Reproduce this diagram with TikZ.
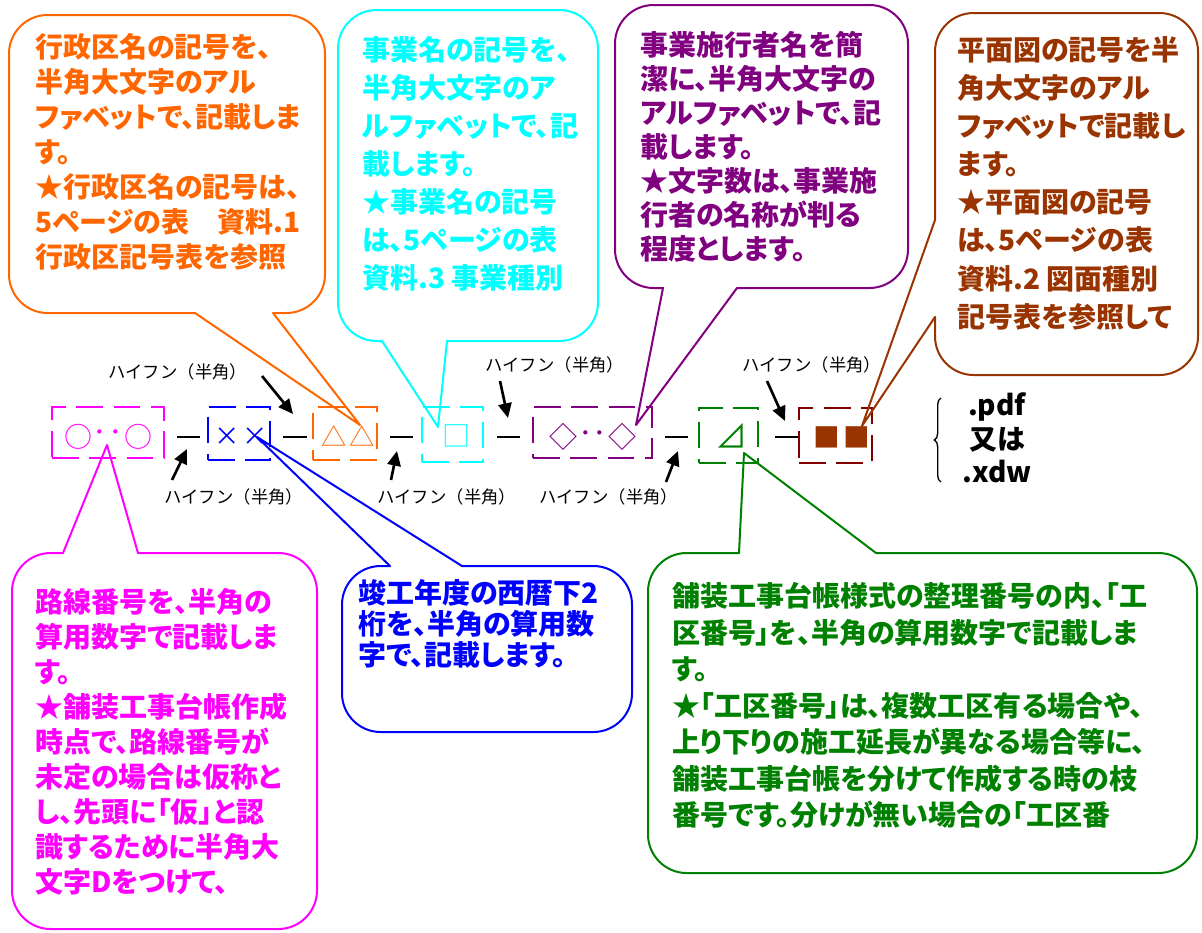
\documentclass[tikz,border=0pt]{standalone}
\usepackage{fontspec}
\usetikzlibrary{arrows.meta,decorations.pathreplacing}
\newfontfamily\jp{Noto Sans CJK JP}[RawFeature=+palt]
\newfontfamily\jpn{Noto Sans CJK JP}
\definecolor{cOra}{HTML}{FF6600}
\definecolor{cCya}{HTML}{00FFFF}
\definecolor{cPur}{HTML}{800080}
\definecolor{cBrn}{HTML}{993300}
\definecolor{cDrd}{HTML}{800000}
\definecolor{cMag}{HTML}{FF00FF}
\definecolor{cBlu}{HTML}{0000FF}
\definecolor{cGrn}{HTML}{008000}
\tikzset{
  callout/.style={line width=1.5pt, line cap=round, line join=round},
  ctext/.style={anchor=north west, inner sep=0pt, align=left},
  dbox/.style={draw, line width=1.8pt, dash pattern=on 20pt off 8pt, inner sep=0pt},
  sym/.style={inner sep=0pt},
  hyph/.style={line width=1.5pt, black},
  arr/.style={line width=2pt, black, -{Triangle[length=11pt,width=10pt]}},
  hlabel/.style={font=\jpn\fontsize{13}{14}\selectfont, inner sep=0pt},
}
\begin{document}
\begin{tikzpicture}[x=0.75pt,y=-0.75pt]
\useasboundingbox (0,0) rectangle (1202,932);

% ---------- dashed boxes ----------
\node[dbox,draw=cMag,minimum width=84pt,minimum height=38.25pt] (mag) at (108,432.5) {};
\node[dbox,draw=cBlu,minimum width=46.5pt,minimum height=39.75pt] (blu) at (239,433.5) {};
\node[dbox,draw=cOra,minimum width=48pt,minimum height=39.75pt] (ora) at (345,433.5) {};
\node[dbox,draw=cCya,minimum width=45.75pt,minimum height=41.25pt] (cya) at (452.5,434.5) {};
\node[dbox,draw=cPur,minimum width=89.25pt,minimum height=38.25pt] (pur) at (592.5,432.5) {};
\node[dbox,draw=cGrn,minimum width=44.25pt,minimum height=41.25pt] (grn) at (728.5,435.5) {};
\node[dbox,draw=cDrd,minimum width=54.75pt,minimum height=41.25pt] (brn) at (835.5,435.5) {};

% ---------- symbols ----------
\node[sym,text=cMag,font=\jpn\fontsize{21}{21}\selectfont] (m1) at (78,437) {○};
\node[sym,text=cMag,font=\jpn\fontsize{19}{19}\selectfont] (m2) at (100,436) {･};
\node[sym,text=cMag,font=\jpn\fontsize{19}{19}\selectfont] (m3) at (116,436) {･};
\node[sym,text=cMag,font=\jpn\fontsize{21}{21}\selectfont] (m4) at (138,437) {○};
\node[sym,text=cBlu,font=\jpn\fontsize{19}{19}\selectfont] (b1) at (227,437) {×};
\node[sym,text=cBlu,font=\jpn\fontsize{19}{19}\selectfont] (b2) at (255,437) {×};
\node[sym,text=cOra,font=\jpn\fontsize{19}{19}\selectfont] (o1) at (334,436) {△};
\node[sym,text=cOra,font=\jpn\fontsize{19}{19}\selectfont] (o2) at (362,436) {△};
\node[sym,text=cCya,font=\jpn\fontsize{21}{21}\selectfont] (c1) at (456,436) {□};
\node[sym,text=cPur,font=\jpn\fontsize{21}{21}\selectfont] (p1) at (563,437) {◇};
\node[sym,text=cPur,font=\jpn\fontsize{19}{19}\selectfont] (p2) at (586,437) {･};
\node[sym,text=cPur,font=\jpn\fontsize{19}{19}\selectfont] (p3) at (600,437) {･};
\node[sym,text=cPur,font=\jpn\fontsize{21}{21}\selectfont] (p4) at (622,437) {◇};
\node[sym,text=cGrn,font=\jpn\fontsize{24}{24}\selectfont] (g1) at (731,436) {⊿};
\node[sym,text=cBrn,font=\jpn\fontsize{20}{20}\selectfont] (r1) at (827,437) {■};
\node[sym,text=cBrn,font=\jpn\fontsize{20}{20}\selectfont] (r2) at (857,437) {■};

% ---------- hyphens ----------
\draw[hyph] (177,437) -- (200,437);
\draw[hyph] (283,437) -- (307,437);
\draw[hyph] (390,437) -- (413,437);
\draw[hyph] (497,437) -- (520,437);
\draw[hyph] (665,437) -- (688,437);
\draw[hyph] (775,437) -- (798,437);

% ---------- hyphen labels and arrows ----------
\node[hlabel] (hl1) at (178,372) {ハイフン（半角）};
\node[hlabel] (hl2) at (234,497) {ハイフン（半角）};
\node[hlabel] (hl3) at (447,497) {ハイフン（半角）};
\node[hlabel] (hl4) at (555,365) {ハイフン（半角）};
\node[hlabel] (hl5) at (609,497) {ハイフン（半角）};
\node[hlabel] (hl6) at (812,365) {ハイフン（半角）};
\coordinate (a1s) at (262,376); \coordinate (a1e) at (293,414);
\coordinate (a2s) at (172,480); \coordinate (a2e) at (187,449);
\coordinate (a3s) at (391,480); \coordinate (a3e) at (397,451);
\coordinate (a4s) at (500,381); \coordinate (a4e) at (508,418);
\coordinate (a5s) at (666,482); \coordinate (a5e) at (678,451);
\coordinate (a6s) at (767,381); \coordinate (a6e) at (785,421);
\draw[arr] (a1s) -- (a1e);
\draw[arr] (a2s) -- (a2e);
\draw[arr] (a3s) -- (a3e);
\draw[arr] (a4s) -- (a4e);
\draw[arr] (a5s) -- (a5e);
\draw[arr] (a6s) -- (a6e);

% ---------- brace and extensions ----------
\draw[decorate,decoration={brace,amplitude=5pt},line width=1pt] (941,482) -- (941,398);
\node[inner sep=0pt,align=center,font=\jp\bfseries\fontsize{21}{25}\selectfont] (ext) at (997,438) {.pdf\\又は\\.xdw};

% ---------- callouts: tips ----------
\coordinate (tOra) at (360,425);
\coordinate (tCya) at (438,427);
\coordinate (tPur) at (636,425);
\coordinate (tBrn) at (862,426);
\coordinate (tMag) at (107,445);
\coordinate (tBlu) at (257,437);
\coordinate (tGrn) at (744,453);

% orange
\draw[callout,cOra,rounded corners=29pt] (273,313) -- (325,313) -- (325,15) -- (9,15) -- (9,313) -- (195,313);
\draw[callout,cOra] (195,313) -- (tOra) -- (273,313);
% cyan
\draw[callout,cCya,rounded corners=29pt] (447,341) -- (598,341) -- (598,10) -- (338,10) -- (338,341) -- (382,341);
\draw[callout,cCya] (382,341) -- (tCya) -- (447,341);
% purple
\draw[callout,cPur,rounded corners=29pt] (737,288) -- (908,288) -- (908,5) -- (615,5) -- (615,288) -- (663,288);
\draw[callout,cPur] (663,288) -- (tPur) -- (737,288);
% brown
\draw[callout,cBrn,rounded corners=29pt] (935,317) -- (935,375) -- (1198,375) -- (1198,13) -- (935,13) -- (935,220);
\draw[callout,cBrn] (935,220) -- (tBrn) -- (935,317);
% magenta
\draw[callout,cMag,rounded corners=29pt] (63,553) -- (12,553) -- (12,929) -- (317,929) -- (317,553) -- (138,553);
\draw[callout,cMag] (138,553) -- (tMag) -- (63,553);
% blue
\draw[callout,cBlu,rounded corners=29pt] (390,566) -- (342,566) -- (342,732) -- (632,732) -- (632,566) -- (462,566);
\draw[callout,cBlu] (462,566) -- (tBlu) -- (390,566);
% green
\draw[callout,cGrn,rounded corners=29pt] (739,553) -- (648,553) -- (648,873) -- (1197,873) -- (1197,553) -- (876,553);
\draw[callout,cGrn] (876,553) -- (tGrn) -- (739,553);

% ---------- callout texts ----------
\node[ctext,text=cOra,font=\jp\bfseries\fontsize{21}{26.25}\selectfont] (txOra) at (35,33)
 {行政区名の記号を、\\半角大文字のアル\\ファベットで、記載しま\\す。\\★行政区名の記号は、\\5ページの表　資料.1\\行政区記号表を参照};
\node[ctext,text=cCya,font=\jp\bfseries\fontsize{21}{28.5}\selectfont] (txCya) at (362,36)
 {事業名の記号を、\\半角大文字のア\\ルファベットで、記\\載します。\\★事業名の記号\\は、5ページの表\\資料.3 事業種別};
\node[ctext,text=cPur,font=\jp\bfseries\fontsize{21}{25.5}\selectfont] (txPur) at (640,31)
 {事業施行者名を簡\\潔に、半角大文字の\\アルファベットで、記\\載します。\\★文字数は、事業施\\行者の名称が判る\\程度とします。};
\node[ctext,text=cBrn,font=\jp\bfseries\fontsize{21}{28.6}\selectfont] (txBrn) at (957,36)
 {平面図の記号を半\\角大文字のアル\\ファベットで記載し\\ます。\\★平面図の記号\\は、5ページの表\\資料.2 図面種別\\記号表を参照して};
\node[ctext,text=cMag,font=\jp\bfseries\fontsize{21}{26.25}\selectfont] (txMag) at (35,588)
 {路線番号を、半角の\\算用数字で記載しま\\す。\\★舗装工事台帳作成\\時点で、路線番号が\\未定の場合は仮称と\\し、先頭に「仮」と認\\識するために半角大\\文字Dをつけて、};
\node[ctext,text=cBlu,font=\jp\bfseries\fontsize{21}{23.5}\selectfont] (txBlu) at (358,579)
 {竣工年度の西暦下2\\桁を、半角の算用数\\字で、記載します。};
\node[ctext,text=cGrn,font=\jp\bfseries\fontsize{21}{27.4}\selectfont] (txGrn) at (672,582)
 {舗装工事台帳様式の整理番号の内、「工\\区番号」を、半角の算用数字で記載しま\\す。\\★「工区番号」は、複数工区有る場合や、\\上り下りの施工延長が異なる場合等に、\\舗装工事台帳を分けて作成する時の枝\\番号です。分けが無い場合の「工区番};
\end{tikzpicture}
\end{document}
